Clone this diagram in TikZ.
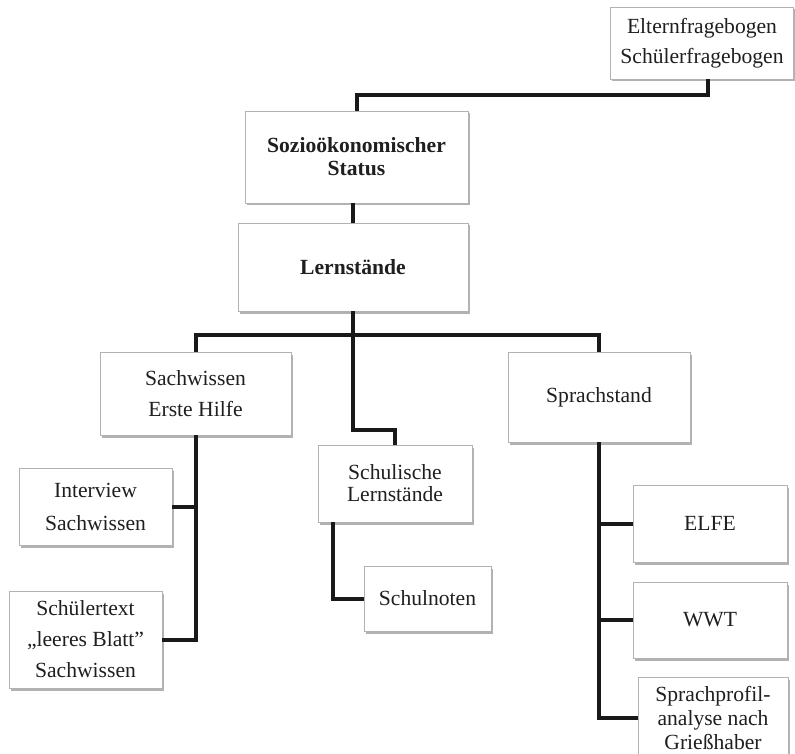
\documentclass[tikz,border=0pt]{standalone}
\usepackage{fontspec}
\setmainfont{Liberation Serif}
\usetikzlibrary{shadows}
\begin{document}
\begin{tikzpicture}[x=1pt,y=-1pt,
  box/.style={draw=gray!60, line width=0.8pt, fill=white, align=center, inner sep=0pt,
    text=black!88, font=\fontsize{21.6}{24}\selectfont,
    drop shadow={shadow xshift=1.5pt, shadow yshift=-2.5pt, opacity=0.3, fill=black}},
  conn/.style={line width=4pt, draw=black!90}]
\useasboundingbox (0,0) rectangle (795,754);

% nodes
\node[box, minimum width=183pt, minimum height=72pt] (eltern) at (702,43) {Elternfragebogen\\[6pt]Schülerfragebogen};
\node[box, minimum width=223pt, minimum height=92pt, font=\fontsize{21.6}{24}\selectfont\bfseries] (sozio) at (356.5,157) {Sozioökonomischer\\[-1pt]Status};
\node[box, minimum width=230pt, minimum height=88pt, font=\fontsize{21.6}{24}\selectfont\bfseries] (lern) at (353,267) {Lernstände};
\node[box, minimum width=191pt, minimum height=83pt] (sach) at (195.5,393.5) {Sachwissen\\[7pt]Erste Hilfe};
\node[box, minimum width=153pt, minimum height=77pt] (inter) at (95.5,506.5) {Interview\\[9pt]Sachwissen};
\node[box, minimum width=153pt, minimum height=97pt] (schueler) at (85.5,639.5) {Schülertext\\[7pt]„leeres Blatt”\\[7pt]Sachwissen};
\node[box, minimum width=154pt, minimum height=77pt] (schul) at (395,483.5) {Schulische\\[-2pt]Lernstände};
\node[box, minimum width=127pt, minimum height=65pt] (noten) at (427.5,598.5) {Schulnoten};
\node[box, minimum width=182pt, minimum height=90pt] (sprach) at (599,397) {Sprachstand};
\node[box, minimum width=154pt, minimum height=77pt] (elfe) at (710,523.5) {ELFE};
\node[box, minimum width=154pt, minimum height=76pt] (wwt) at (710,620) {WWT};
\node[box, minimum width=150pt, minimum height=80pt] (profil) at (713,717.5) {Sprachprofil-\\[0pt]analyse nach\\[0pt]Grießhaber};

% helper coordinates
\coordinate (e1) at (708,95);
\coordinate (bus) at (353,335);
\coordinate (m1) at (353,430);
\coordinate (k1) at (333,0);

% connectors
\draw[conn] (eltern.south -| e1) -- (e1) -| (sozio.north);
\draw[conn] (sozio.south -| lern.north) -- (lern.north);
\draw[conn] (lern.south) -- (bus);
\draw[conn] (sach.north) |- (bus) -| (sprach.north);
\draw[conn] (bus) -- (m1) -| (schul.north);
\draw[conn] (sach.south) |- (schueler.east);
\draw[conn] (sach.south |- inter.east) -- (inter.east);
\draw[conn] (schul.south -| k1) |- (noten.west);
\draw[conn] (sprach.south) |- (profil.west);
\draw[conn] (sprach.south |- elfe.west) -- (elfe.west);
\draw[conn] (sprach.south |- wwt.west) -- (wwt.west);
\end{tikzpicture}
\end{document}
